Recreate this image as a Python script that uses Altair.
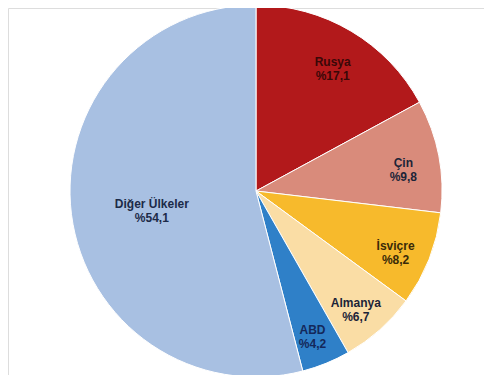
import altair as alt
import pandas as pd

countries = ["Rusya", "Çin", "İsviçre", "Almanya", "ABD", "Diğer Ülkeler"]
shares = [17.1, 9.8, 8.2, 6.7, 4.2, 54.1]
colors = ["#B2191B", "#D98B7B", "#F7BA2C", "#FADDA5", "#2F80C8", "#A8C0E2"]
text_colors = ["#3A0808", "#1C2438", "#3A2A08", "#1C2438", "#14285A", "#1C2A48"]

df = pd.DataFrame({
    "ulke": countries,
    "pay": shares,
    "sira": list(range(len(countries))),
    "tc": text_colors,
})

theta_scale = alt.Scale(domain=[0, sum(shares)], zero=True, nice=False)

base = alt.Chart(df).transform_stack(
    stack="pay", groupby=[], as_=["t0", "t1"], sort=[alt.SortField("sira", order="ascending")]
).transform_calculate(
    mid="(datum.t0 + datum.t1) / 2",
    etiket="datum.ulke + '\\n%' + replace(format(datum.pay, '.1f'), '.', ',')",
    r="datum.ulke == 'Diğer Ülkeler' ? 105 : 150",
).encode(
    x=alt.value(248),
    y=alt.value(183),
)

pie = base.mark_arc(outerRadius=186, stroke="#FFFFFF", strokeWidth=1).encode(
    theta=alt.Theta("t0:Q", scale=theta_scale),
    theta2="t1:Q",
    color=alt.Color("ulke:N", scale=alt.Scale(domain=countries, range=colors), legend=None),
)

txt = base.mark_text(
    font="Liberation Sans", fontWeight="bold", fontSize=12,
    lineBreak="\n", lineHeight=14, align="center", baseline="middle",
).encode(
    theta=alt.Theta("mid:Q", scale=theta_scale),
    text="etiket:N",
    color=alt.Color("tc:N", scale=None),
    radius=alt.Radius("r:Q", scale=None),
)

chart = alt.layer(pie, txt).properties(
    width=476, height=367, padding=0, autosize="none"
).configure_view(stroke="transparent", strokeWidth=0).configure(background="#FFFFFF")

chart.save("out.html", embed_options={"renderer": "svg", "actions": False})
